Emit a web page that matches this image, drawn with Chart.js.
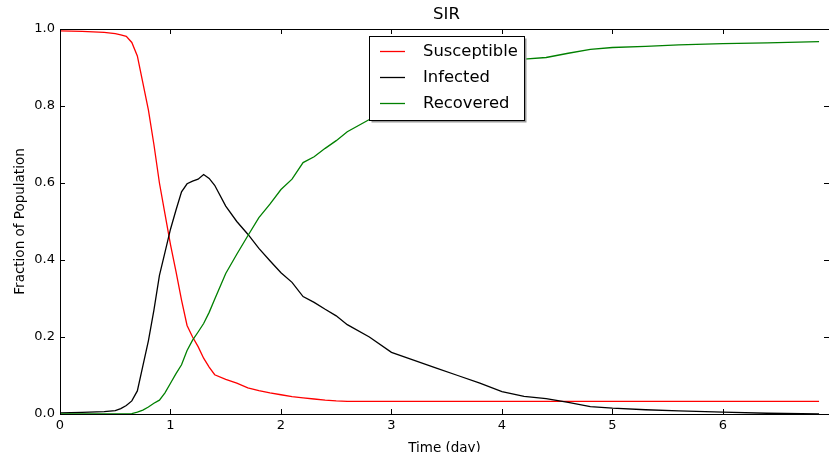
<!DOCTYPE html>
<html>
<head>
<meta charset="utf-8">
<script src="https://cdn.jsdelivr.net/npm/chart.js@4/dist/chart.umd.min.js"></script>
<style>
  body { margin: 0; background: #fff; }
  #wrap { width: 829px; height: 452px; }
</style>
</head>
<body>
<div id="wrap"><canvas id="sir" width="829" height="452"></canvas></div>
<script>
// time in days
var times = [0, 0.2, 0.4, 0.5, 0.55, 0.6, 0.65, 0.7, 0.75, 0.8, 0.85, 0.9, 0.95, 1.0,
  1.05, 1.1, 1.15, 1.2, 1.25, 1.3, 1.35, 1.4, 1.5, 1.6, 1.7, 1.8, 1.9, 2.0, 2.1, 2.2,
  2.3, 2.4, 2.5, 2.6, 2.8, 3.0, 3.2, 3.4, 3.6, 3.8, 4.0, 4.2, 4.4, 4.6, 4.8, 5.0,
  5.3, 5.6, 6.0, 6.4, 6.87];

var susceptible = [0.995, 0.994, 0.991, 0.988, 0.985, 0.981, 0.965, 0.93, 0.86, 0.79,
  0.70, 0.60, 0.52, 0.44, 0.37, 0.296, 0.23, 0.20, 0.175, 0.145, 0.122, 0.102, 0.09,
  0.08, 0.068, 0.061, 0.055, 0.05, 0.045, 0.042, 0.039, 0.036, 0.034, 0.033, 0.033,
  0.033, 0.033, 0.033, 0.033, 0.033, 0.033, 0.033, 0.033, 0.033, 0.033, 0.033, 0.033,
  0.033, 0.033, 0.033, 0.033];

var infected = [0.003, 0.004, 0.006, 0.009, 0.014, 0.022, 0.034, 0.06, 0.125, 0.19,
  0.27, 0.36, 0.42, 0.48, 0.53, 0.577, 0.598, 0.605, 0.61, 0.622, 0.612, 0.594, 0.54,
  0.50, 0.467, 0.43, 0.398, 0.367, 0.342, 0.305, 0.29, 0.272, 0.255, 0.232, 0.20,
  0.16, 0.14, 0.12, 0.10, 0.08, 0.058, 0.046, 0.04, 0.03, 0.019, 0.015, 0.011, 0.008,
  0.005, 0.002, 0.0];

var recovered = [0, 0, 0, 0, 0, 0, 0.001, 0.005, 0.01, 0.018, 0.028, 0.036, 0.055, 0.08,
  0.105, 0.128, 0.165, 0.192, 0.213, 0.235, 0.264, 0.298, 0.365, 0.415, 0.463, 0.51,
  0.545, 0.583, 0.61, 0.653, 0.668, 0.69, 0.71, 0.733, 0.765, 0.806, 0.826, 0.846,
  0.867, 0.886, 0.908, 0.922, 0.926, 0.937, 0.947, 0.952, 0.955, 0.959, 0.962, 0.964,
  0.967];

var seriesNames = ["Susceptible", "Infected", "Recovered"];
var xTicks = [0, 1, 2, 3, 4, 5, 6];
var yTicks = [0.0, 0.2, 0.4, 0.6, 0.8, 1.0];

function pts(vals) {
  return times.map(function (t, i) { return { x: t, y: vals[i] }; });
}

var font = "'DejaVu Sans', sans-serif";

// box with inward ticks on all four sides, matplotlib style
var framePlugin = {
  id: "frame",
  afterDraw: function (chart) {
    var c = chart.ctx, a = chart.chartArea;
    var xs = chart.scales.x, ys = chart.scales.y;
    c.save();
    c.strokeStyle = "#000";
    c.lineWidth = 1;
    c.strokeRect(a.left + 0.5, a.top + 0.5, a.right - a.left, a.bottom - a.top);
    c.beginPath();
    xTicks.forEach(function (v) {
      var px = Math.round(xs.getPixelForValue(v)) + 0.5;
      c.moveTo(px, a.bottom); c.lineTo(px, a.bottom - 5);
      c.moveTo(px, a.top); c.lineTo(px, a.top + 5);
    });
    yTicks.forEach(function (v) {
      var py = Math.round(ys.getPixelForValue(v)) + 0.5;
      c.moveTo(a.left, py); c.lineTo(a.left + 5, py);
      c.moveTo(a.right, py); c.lineTo(a.right - 5, py);
    });
    c.stroke();

    // title
    c.fillStyle = "#000";
    c.font = "16.5px " + font;
    c.textAlign = "center";
    c.textBaseline = "middle";
    c.fillText("SIR", (a.left + a.right) / 2 + 2, 15);

    // legend
    var lx = 369, ly = 36, lw = 155, lh = 84;
    c.fillStyle = "#999";
    c.fillRect(lx + 2.5, ly + 2.5, lw, lh);
    c.fillStyle = "#fff";
    c.fillRect(lx, ly, lw, lh);
    c.strokeStyle = "#000";
    c.strokeRect(lx + 0.5, ly + 0.5, lw, lh);
    c.font = "16.4px " + font;
    c.textAlign = "left";
    chart.data.datasets.forEach(function (ds, i) {
      var y = 51.5 + i * 26;
      c.strokeStyle = ds.borderColor;
      c.lineWidth = 1.3;
      c.beginPath();
      c.moveTo(380, y); c.lineTo(405, y);
      c.stroke();
      c.fillStyle = "#000";
      c.fillText(ds.label, 423, y);
    });
    c.restore();
  }
};

new Chart(document.getElementById("sir"), {
  type: "line",
  data: {
    datasets: [
      { label: seriesNames[0], data: pts(susceptible), borderColor: "#ff0000", order: 2 },
      { label: seriesNames[1], data: pts(infected), borderColor: "#000000", order: 1 },
      { label: seriesNames[2], data: pts(recovered), borderColor: "#008000", order: 0 }
    ]
  },
  options: {
    responsive: false,
    animation: false,
    events: [],
    layout: { padding: { top: 29, right: 0, bottom: 0, left: 0 } },
    elements: {
      point: { radius: 0 },
      line: { borderWidth: 1.3, tension: 0 }
    },
    plugins: {
      legend: { display: false },
      title: { display: false },
      tooltip: { enabled: false }
    },
    scales: {
      x: {
        type: "linear",
        min: 0,
        max: 6.96,
        afterFit: function (s) { s.height = 38; },
        grid: { display: false, drawTicks: false },
        border: { display: false },
        ticks: {
          stepSize: 1,
          includeBounds: false,
          padding: 4,
          color: "#000",
          font: { family: font, size: 13 },
          callback: function (v) { return String(v); }
        },
        title: {
          display: true,
          text: "Time (day)",
          color: "#000",
          font: { family: font, size: 13.5 },
          padding: { top: 0, bottom: -5 }
        }
      },
      y: {
        min: 0,
        max: 1,
        afterFit: function (s) { s.width = 60; },
        afterBuildTicks: function (s) { s.ticks = yTicks.map(function (v) { return { value: v }; }); },
        grid: { display: false, drawTicks: false },
        border: { display: false },
        ticks: {
          padding: 5,
          color: "#000",
          font: { family: font, size: 13 },
          callback: function (v) { return v.toFixed(1); }
        },
        title: {
          display: true,
          text: "Fraction of Population",
          color: "#000",
          font: { family: font, size: 13.5 },
          padding: { top: 12, bottom: 0 }
        }
      }
    }
  },
  plugins: [framePlugin]
});
</script>
</body>
</html>
